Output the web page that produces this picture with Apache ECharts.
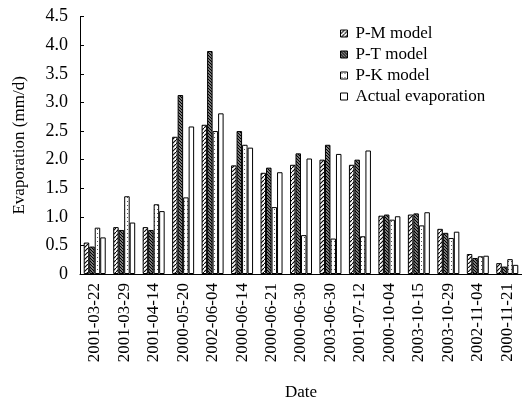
<!DOCTYPE html>
<html><head><meta charset="utf-8">
<script src="https://cdn.jsdelivr.net/npm/echarts@6/dist/echarts.min.js"></script>
<style>html,body{margin:0;padding:0;background:#fff}#c{width:522px;height:406px}</style>
</head><body><div id="c"></div>
<script>
const categories = ['2001-03-22','2001-03-29','2001-04-14','2000-05-20','2002-06-04','2000-06-14','2000-06-21','2000-06-30','2003-06-30','2001-07-12','2000-10-04','2003-10-15','2003-10-29','2002-11-04','2000-11-21'];
const pmModel = [0.55,0.82,0.82,2.40,2.61,1.90,1.77,1.91,2.00,1.91,1.02,1.04,0.79,0.35,0.19];
const ptModel = [0.48,0.77,0.77,3.13,3.90,2.50,1.86,2.11,2.26,2.00,1.04,1.06,0.72,0.28,0.13];
const pkModel = [0.81,1.36,1.22,1.34,2.50,2.26,1.17,0.68,0.62,0.66,0.95,0.85,0.63,0.31,0.26];
const actualEvap = [0.64,0.90,1.10,2.58,2.81,2.21,1.78,2.02,2.10,2.16,1.01,1.08,0.74,0.32,0.16];
const seriesNames = ['P-M model','P-T model','P-K model','Actual evaporation'];

function makePattern(kind){
  const c = document.createElement('canvas');
  const ctx = c.getContext('2d');
  if(kind==='pm'){
    c.width=4;c.height=4;
    ctx.fillStyle='#fff';ctx.fillRect(0,0,4,4);
    ctx.strokeStyle='#000';ctx.lineWidth=1.1;
    ctx.beginPath();ctx.moveTo(-1,5);ctx.lineTo(5,-1);ctx.stroke();
  } else if(kind==='pt'){
    c.width=3;c.height=3;
    ctx.fillStyle='#fff';ctx.fillRect(0,0,3,3);
    ctx.strokeStyle='#000';ctx.lineWidth=1.5;
    ctx.beginPath();ctx.moveTo(-1,-1);ctx.lineTo(4,4);ctx.stroke();
    ctx.beginPath();ctx.moveTo(2,-1);ctx.lineTo(4,1);ctx.stroke();
    ctx.beginPath();ctx.moveTo(-1,2);ctx.lineTo(1,4);ctx.stroke();
  } else if(kind==='pk'){
    c.width=3;c.height=4;
    ctx.fillStyle='#fff';ctx.fillRect(0,0,3,4);
    ctx.fillStyle='#555';ctx.fillRect(1,1,1,1);
  } else {
    c.width=2;c.height=2;ctx.fillStyle='#fff';ctx.fillRect(0,0,2,2);
  }
  return {image:c, repeat:'repeat'};
}
const patterns = [makePattern('pm'),makePattern('pt'),makePattern('pk'),makePattern('act')];
const dataSets = [pmModel,ptModel,pkModel,actualEvap];
const font = 'Liberation Serif';

const chart = echarts.init(document.getElementById('c'),null,{renderer:'canvas'});
chart.setOption({
  animation:false,
  backgroundColor:'#fff',
  grid:{left:80, top:16.7, height:263.3, width:445.5, containLabel:false},
  legend:{
    orient:'vertical', left:335, top:20, itemWidth:7, itemHeight:7, itemGap:4,
    icon:'rect',
    textStyle:{fontFamily:font, fontSize:17, color:'#000', padding:[0,0,0,3]},
    data:seriesNames.map((n,i)=>({name:n, icon:'rect', itemStyle:{color:patterns[i], borderColor:'#000', borderWidth:1}}))
  },
  xAxis:{
    type:'category', data:categories,
    name:'Date', nameLocation:'middle', nameGap:110,
    nameTextStyle:{fontFamily:font, fontSize:17, color:'#000'},
    axisLine:{lineStyle:{color:'#000', width:1}},
    axisTick:{show:false},
    axisLabel:{rotate:90, margin:9, fontFamily:font, fontSize:17, color:'#000', interval:0}
  },
  yAxis:{
    type:'value', min:0, max:4.5, interval:0.5,
    name:'Evaporation (mm/d)', nameLocation:'middle', nameGap:52,
    nameTextStyle:{fontFamily:font, fontSize:17, color:'#000'},
    axisLine:{show:true, lineStyle:{color:'#000', width:1}},
    axisTick:{show:true, inside:true, length:4, lineStyle:{color:'#000'}},
    splitLine:{show:false},
    axisLabel:{margin:12, fontFamily:font, fontSize:18, color:'#000',
      formatter:v=> v===0 ? '0' : v.toFixed(1)}
  },
  series:dataSets.map((d,i)=>({
    name:seriesNames[i], type:'bar', data:d,
    barWidth:5.5, barGap:'0%',
    itemStyle:{color:patterns[i], borderColor:'#000', borderWidth:1}
  }))
});
</script></body></html>
